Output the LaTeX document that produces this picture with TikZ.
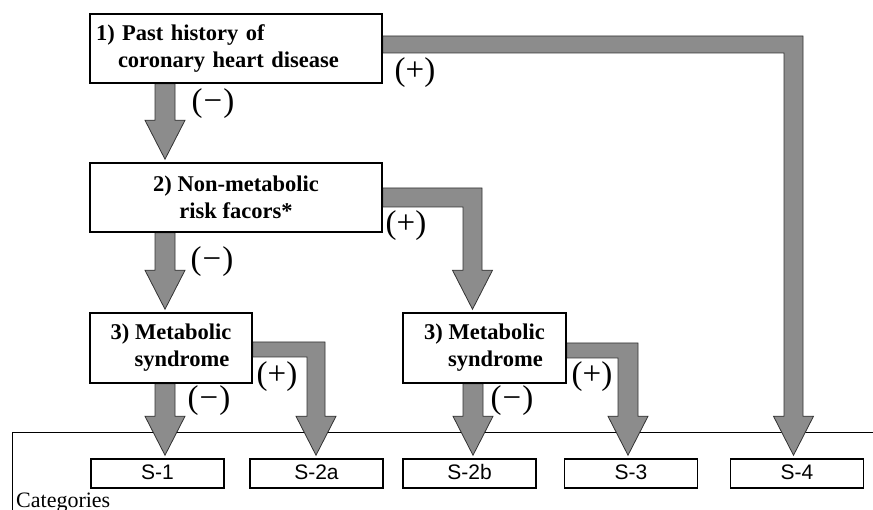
\documentclass[tikz,border=0pt]{standalone}
\usepackage{fontspec}
\setmainfont{Liberation Serif}
\newfontfamily\sfont{Liberation Sans}
\usetikzlibrary{calc}
\pgfdeclarelayer{bgg}
\pgfdeclarelayer{bg}
\pgfsetlayers{bgg,bg,main}
% straight block arrow: #1 column coordinate, #2 source anchor, #3 target anchor
\newcommand\blkdown[3]{%
  \path[blk] let \p1=(#2 -| #1), \p2=(#3 -| #1) in
    (\x1-10pt,\y1) -- (\x1+10pt,\y1) -- (\x1+10pt,\y2+42pt) -- (\x1+20pt,\y2+42pt)
    -- (\x1,\y2+3pt) -- (\x1-20pt,\y2+42pt) -- (\x1-10pt,\y2+42pt) -- cycle;}
% elbow block arrow: #1 source anchor, #2 outer corner, #3 target anchor, #4 bar thickness, #5 shaft width
\newcommand\blkelbow[5]{%
  \path[blk] let \p1=(#1), \p2=(#2), \p3=(#3 -| #2) in
    (\x1,\y2) -- (\x2,\y2) -- (\x2,\y3+42pt) -- ({\x2-#5/2+20pt},\y3+42pt)
    -- ({\x2-#5/2},\y3+3pt) -- ({\x2-#5/2-20pt},\y3+42pt) -- ({\x2-#5},\y3+42pt)
    -- ({\x2-#5},{\y2-#4}) -- (\x1,{\y2-#4}) -- cycle;}
\begin{document}
\begin{tikzpicture}[x=1pt,y=-1pt,
  box/.style={draw=black, line width=1.5pt, fill=white, inner sep=0pt, align=center,
    font=\fontsize{22.5}{27}\selectfont\bfseries},
  sbox/.style={draw=black, line width=1.5pt, fill=white, inner sep=0pt,
    text height=15pt, text depth=3pt,
    minimum width=133pt, minimum height=29pt, font=\sfont\fontsize{21}{24}\selectfont},
  blk/.style={fill=black!45, draw=black!80, line width=0.8pt, line join=miter},
  sign/.style={inner sep=0pt, font=\fontsize{33}{36}\selectfont},
  frame/.style={draw=black, line width=1pt}]
\useasboundingbox (0,0) rectangle (873,510);

% boxes
\node[box, text width=280pt, align=left, inner xsep=6pt, minimum height=69pt] (b1) at (236,48.5)
  {1) Past history of\\\hspace*{22pt}coronary heart disease};
\node[box, minimum width=292pt, minimum height=69pt] (b2) at (236,197.5)
  {2) Non-metabolic\\risk facors*};
\node[box, minimum width=162pt, minimum height=70pt] (b3a) at (171,348)
  {3) Metabolic\\\hspace*{22pt}syndrome};
\node[box, minimum width=163pt, minimum height=70pt] (b3b) at (484.5,348)
  {3) Metabolic\\\hspace*{22pt}syndrome};

\node[sbox] (s1)  at (157.5,473.5) {S-1};
\node[sbox] (s2a) at (316.5,473.5) {S-2a};
\node[sbox] (s2b) at (469.5,473.5) {S-2b};
\node[sbox] (s3)  at (631,473.5)   {S-3};
\node[sbox] (s4)  at (797,473.5)   {S-4};

\node[anchor=base west, inner sep=0pt, font=\fontsize{22}{24}\selectfont] (cat) at (16,507) {Categories};

% signs
\node[sign] (m1) at (213,104) {(\kern1pt−\kern1pt)};
\node[sign] (p1) at (415,73)  {(+)};
\node[sign] (p2) at (406,226) {(+)};
\node[sign] (m2) at (212,262) {(\kern1pt−\kern1pt)};
\node[sign] (p3) at (277,377) {(+)};
\node[sign] (m3) at (209,401) {(\kern1pt−\kern1pt)};
\node[sign] (m4) at (512,401) {(\kern1pt−\kern1pt)};
\node[sign] (p4) at (592,377) {(+)};

% columns and corners
\coordinate (cA) at (165,0);
\coordinate (cB) at (473,0);
\coordinate (k1) at (803,36);
\coordinate (k2) at (482,188);
\coordinate (k3) at (325,342);
\coordinate (k4) at (638,343);

\begin{pgfonlayer}{bgg}
  \coordinate (f1) at (873,433);
  \coordinate (f2) at (12,433);
  \coordinate (f3) at (12,512);
  \draw[frame] (f1) -- (f2) -- (f3);
\end{pgfonlayer}

\begin{pgfonlayer}{bg}
  \blkdown{cA}{b1.south}{b2.north}
  \blkdown{cA}{b2.south}{b3a.north}
  \blkdown{cA}{b3a.south}{s1.north}
  \blkdown{cB}{b3b.south}{s2b.north}
  \blkelbow{b1.east}{k1}{s4.north}{17pt}{19pt}
  \blkelbow{b2.east}{k2}{b3b.north}{19pt}{19pt}
  \blkelbow{b3a.east}{k3}{s2a.north}{15pt}{18pt}
  \blkelbow{b3b.east}{k4}{s3.north}{15pt}{20pt}
\end{pgfonlayer}
\end{tikzpicture}
\end{document}
